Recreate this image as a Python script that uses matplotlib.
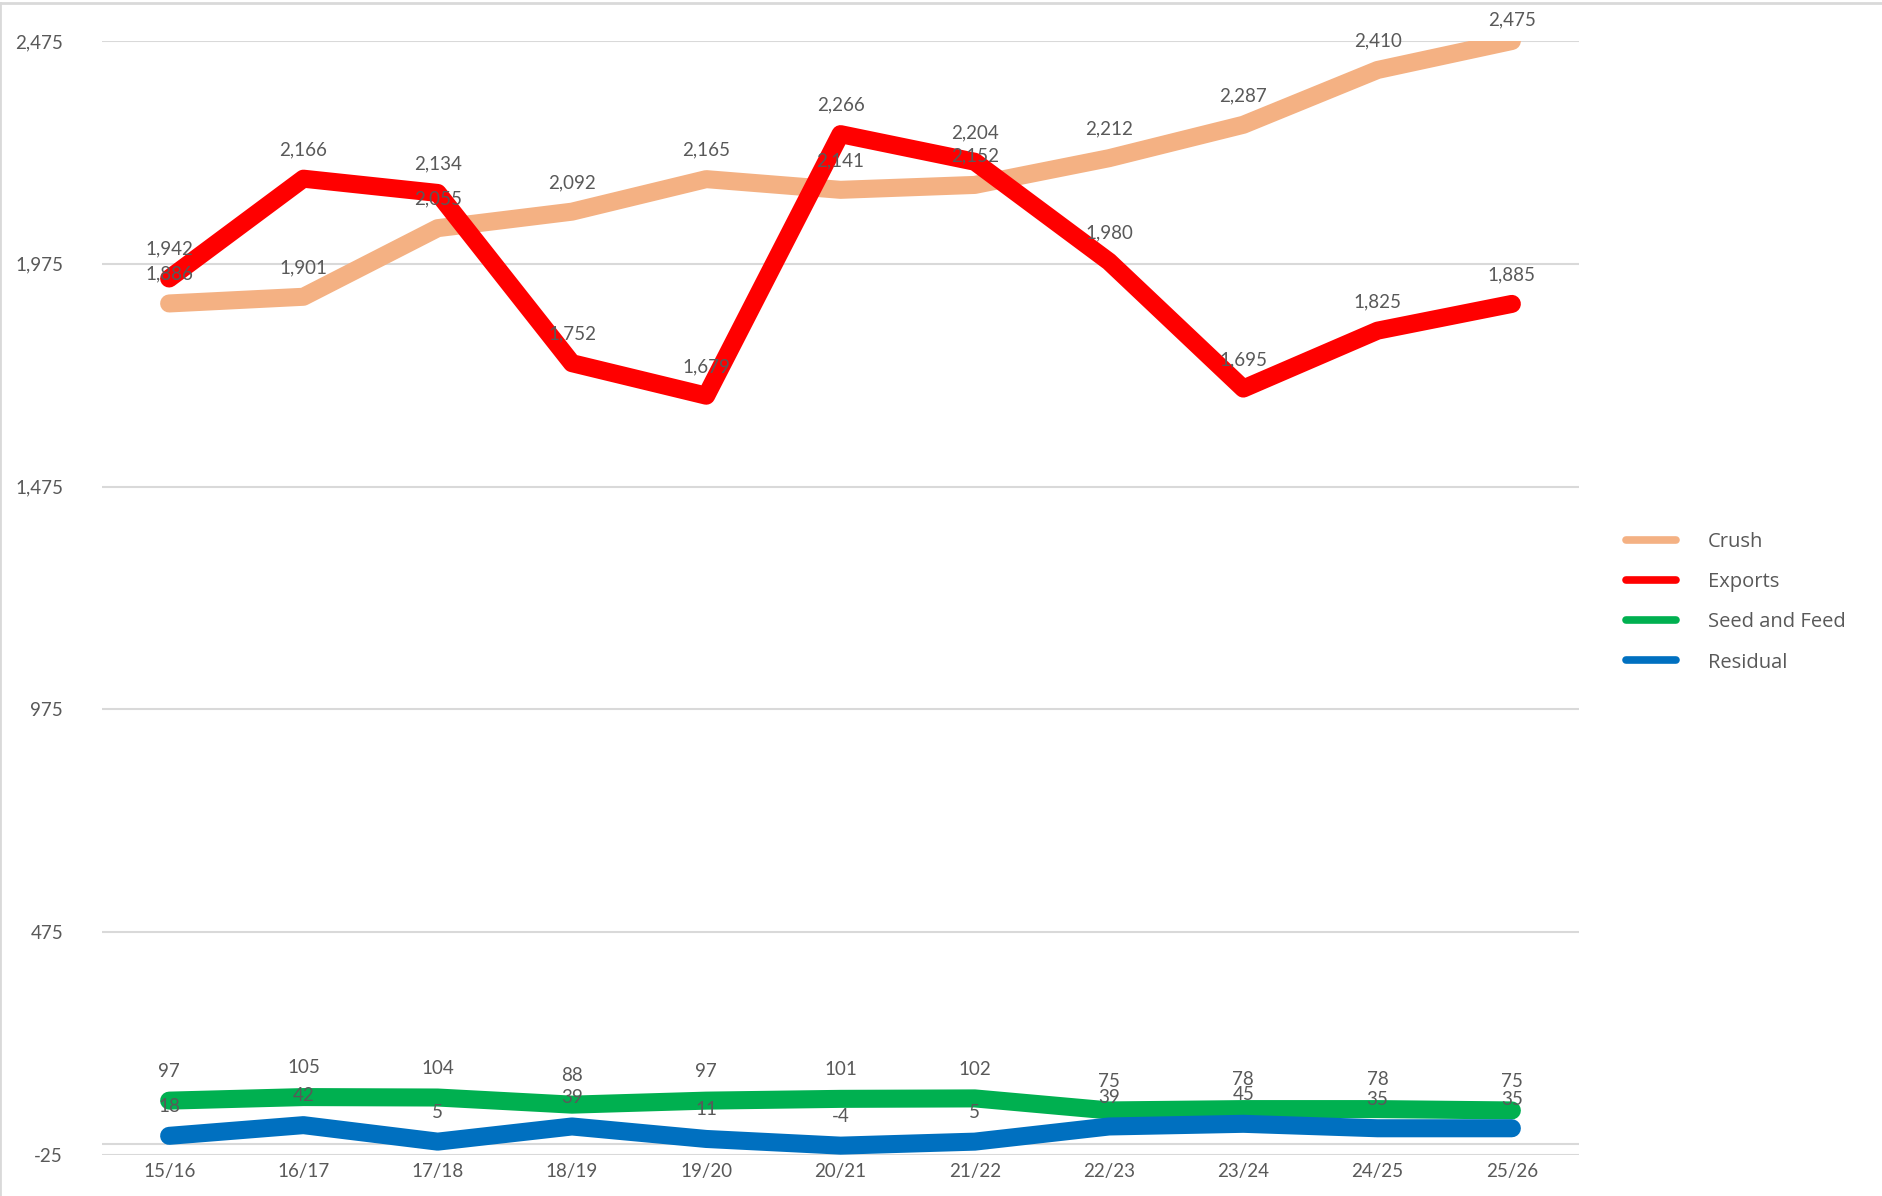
import matplotlib
matplotlib.use('Agg')
import matplotlib.pyplot as plt
from matplotlib.lines import Line2D

seasons = ['15/16', '16/17', '17/18', '18/19', '19/20', '20/21',
           '21/22', '22/23', '23/24', '24/25', '25/26']
crush = [1886, 1901, 2055, 2092, 2165, 2141, 2152, 2212, 2287, 2410, 2475]
exports = [1942, 2166, 2134, 1752, 1679, 2266, 2204, 1980, 1695, 1825, 1885]
seed_feed = [97, 105, 104, 88, 97, 101, 102, 75, 78, 78, 75]
residual = [18, 42, 5, 39, 11, -4, 5, 39, 45, 35, 35]
y_ticks = [-25, 475, 975, 1475, 1975, 2475]

series = [('Crush', crush, '#F4B183'),
          ('Exports', exports, '#FF0000'),
          ('Seed and Feed', seed_feed, '#00B050'),
          ('Residual', residual, '#0070C0')]

plt.rcParams['font.family'] = ['Lato', 'DejaVu Sans']
txt_color = '#595959'

fig = plt.figure(figsize=(18.83, 11.96), dpi=100)
ax = fig.add_axes([102 / 1883, 1 - 1155 / 1196, 1477 / 1883, 1114 / 1196])

x = list(range(len(seasons)))
for i, (name, vals, col) in enumerate(series):
    ax.plot(x, vals, color=col, lw=13, solid_capstyle='round',
            solid_joinstyle='round', zorder=3 + i, label=name)

ymax = y_ticks[-1]
for name, vals, col in series:
    for xi, v in zip(x, vals):
        # labels sit above the point, pushed down when they would leave the chart
        off = 15 if v >= ymax - 20 else 21
        ax.annotate(f'{v:,}', (xi, v), xytext=(0, off), textcoords='offset points',
                    ha='center', va='center', fontsize=13.5, color=txt_color, zorder=10)

ax.set_xlim(-0.5, len(seasons) - 0.5)
ax.set_ylim(-25, 2475)
ax.set_yticks(y_ticks)
ax.set_yticklabels([f'{t:,}' for t in y_ticks])
ax.set_xticks(x)
ax.set_xticklabels(seasons)
ax.tick_params(length=0, labelsize=13.5, labelcolor=txt_color)
ax.tick_params(axis='y', pad=28)
ax.tick_params(axis='x', pad=6)
ax.grid(axis='y', color='#D9D9D9', lw=1.5, zorder=0)
ax.axhline(0, color='#D9D9D9', lw=1.5, zorder=1)
for s in ax.spines.values():
    s.set_visible(False)

handles = [Line2D([], [], color=c, lw=5.5, solid_capstyle='round') for _, _, c in series]
fig.legend(handles, [n for n, _, _ in series], loc='upper left',
           bbox_to_anchor=(1608 / 1883, 1 - 514 / 1196), frameon=False,
           prop={'family': ['Open Sans', 'DejaVu Sans'], 'size': 14.5},
           labelcolor=txt_color, handlelength=2.5,
           handletextpad=1.55, labelspacing=1.0)

# chart border (top and left visible)
fig.add_artist(Line2D([0, 1], [1 - 3 / 1196] * 2, color='#D9D9D9', lw=2,
                      transform=fig.transFigure))
fig.add_artist(Line2D([0.5 / 1883] * 2, [0, 1 - 3 / 1196], color='#D9D9D9', lw=2,
                      transform=fig.transFigure))

fig.savefig('out.png', dpi=100)
